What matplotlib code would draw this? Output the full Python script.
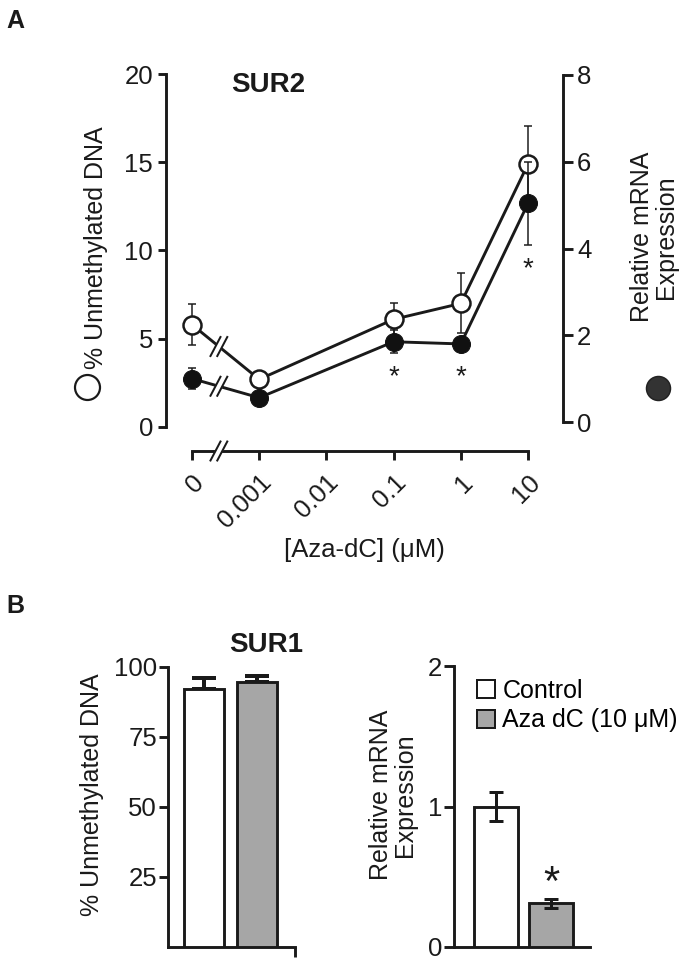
import matplotlib
matplotlib.use('Agg')
import matplotlib.pyplot as plt
from matplotlib.lines import Line2D
from matplotlib.patches import Patch
from matplotlib.transforms import IdentityTransform
import numpy as np

plt.rcParams['font.family'] = ['Liberation Sans', 'DejaVu Sans']

# ---------------- data ----------------
conc_labels = ['0', '0.001', '0.01', '0.1', '1', '10']
data_conc = ['0', '0.001', '0.1', '1', '10']
unmeth_pct = [5.8, 2.7, 6.1, 7.0, 14.9]        # open circles, left axis
unmeth_err = [1.15, 0.0, 0.9, 1.7, 2.15]
mrna_rel = [1.0, 0.56, 1.85, 1.8, 5.04]        # filled circles, right axis
mrna_err = [0.25, 0.0, 0.27, 0.0, 0.95]
sig_conc = ['0.1', '1', '10']

sur1_groups = ['Control', 'Aza dC (10 μM)']
sur1_unmeth = [92.0, 94.5]
sur1_unmeth_err = [4.0, 2.2]
sur1_mrna = [1.0, 0.31]
sur1_mrna_err = [0.1, 0.035]

# ---------------- style ----------------
W, H, DPI = 692, 960, 100
K = '#1a1a1a'
GRAY = '#a6a6a6'
PT = 72.0 / DPI  # points per pixel
LW = 2.9 * PT


def fx(px):
    return px / W


def fy(py):
    return 1 - py / H


fig = plt.figure(figsize=(W / DPI, H / DPI), dpi=DPI)

TICKFS = 18.5
LABFS = 18

# ---------------- Panel A ----------------
step = 67.2
axA = fig.add_axes([fx(166), fy(427), (563 - 166) / W, (427 - 74) / H])
axA.set_xlim(-(192 - 166) / step, (563 - 192) / step)
axA.set_ylim(0, 20)
axR = axA.twinx()
axR.set_ylim(-(427 - 422) / 43.375, 8 + (75 - 74) / 43.375)

for s in ['top', 'right']:
    axA.spines[s].set_visible(False)
for s in ['top', 'left', 'bottom']:
    axR.spines[s].set_visible(False)
axA.spines['left'].set_bounds(0, 20)
axA.spines['bottom'].set_position(('outward', 24 * PT))
axA.spines['bottom'].set_bounds(0, len(conc_labels) - 1)
axR.spines['right'].set_bounds(0, 8)
for sp in list(axA.spines.values()) + list(axR.spines.values()):
    sp.set_linewidth(LW)
    sp.set_color(K)

axA.set_yticks([0, 5, 10, 15, 20])
axA.tick_params(axis='y', direction='out', length=8 * PT, width=LW,
                color=K, labelsize=TICKFS, pad=5 * PT, labelcolor=K)
axR.set_yticks([0, 2, 4, 6, 8])
axR.tick_params(axis='y', direction='out', length=10 * PT, width=LW,
                color=K, labelsize=TICKFS, pad=4 * PT, labelcolor=K)
axA.set_xticks(range(len(conc_labels)))
axA.set_xticklabels(conc_labels, rotation=45, ha='right', va='top',
                    rotation_mode='anchor')
axA.tick_params(axis='x', direction='out', length=9 * PT, width=LW,
                color=K, labelsize=TICKFS, pad=10 * PT, labelcolor=K)
axA.set_xlabel('[Aza-dC] (μM)', fontsize=18.5, color=K, labelpad=4)

xs = [conc_labels.index(c) for c in data_conc]
axA.errorbar(xs, unmeth_pct, yerr=unmeth_err, fmt='none', ecolor=K,
             elinewidth=1.5 * PT, capsize=4 * PT, capthick=1.5 * PT, zorder=2)
axA.plot(xs, unmeth_pct, '-o', color=K, lw=LW, ms=18 * PT,
         mfc='white', mec=K, mew=2.5 * PT, zorder=3)
axR.errorbar(xs, mrna_rel, yerr=mrna_err, fmt='none', ecolor=K,
             elinewidth=1.5 * PT, capsize=4 * PT, capthick=1.5 * PT, zorder=2)
axR.plot(xs, mrna_rel, '-o', color=K, lw=LW, ms=18 * PT,
         mfc='#111111', mec='#111111', mew=1 * PT, zorder=3)

for c in sig_conc:
    i = data_conc.index(c)
    base = mrna_rel[i] - max(mrna_err[i], 0.2)
    axR.annotate('*', (xs[i], base), xytext=(0, -8), textcoords='offset points',
                 ha='center', va='top', fontsize=20, color=K)

fig.text(fx(268), fy(92), 'SUR2', fontsize=20, fontweight='bold', color=K,
         ha='center', va='baseline')
fig.text(fx(15), fy(28), 'A', fontsize=18, fontweight='bold', color=K,
         ha='center', va='baseline')

fig.text(fx(96), fy(248), '% Unmethylated DNA', rotation=90, fontsize=LABFS,
         color=K, ha='center', va='center')
fig.text(fx(654), fy(237), 'Relative mRNA\nExpression', rotation=90,
         fontsize=LABFS, color=K, ha='center', va='center',
         multialignment='center', linespacing=1.0)
fig.add_artist(Line2D([fx(87)], [fy(387)], marker='o', ms=25 * PT, mfc='white',
                      mec=K, mew=2.2 * PT, transform=fig.transFigure))
fig.add_artist(Line2D([fx(658)], [fy(388)], marker='o', ms=24 * PT,
                      mfc='#333333', mec='#222222', mew=1.5 * PT,
                      transform=fig.transFigure))


# break marks
def draw_break(xd, yd):
    dx, dy = 5, 9.5
    fig.add_artist(Line2D([xd - dx, xd + dx], [yd - dy, yd + dy], lw=7 * PT,
                          color='white', transform=IdentityTransform(),
                          zorder=10, solid_capstyle='butt'))
    for off in (-3.4, 3.4):
        fig.add_artist(Line2D([xd + off - dx, xd + off + dx],
                              [yd - dy, yd + dy], lw=2.0 * PT, color=K,
                              transform=IdentityTransform(), zorder=11))


bx = 0.4
p0 = axA.transData.transform((xs[0], unmeth_pct[0]))
p1 = axA.transData.transform((xs[1], unmeth_pct[1]))
t = (axA.transData.transform((bx, 0))[0] - p0[0]) / (p1[0] - p0[0])
draw_break(p0[0] + t * (p1[0] - p0[0]), p0[1] + t * (p1[1] - p0[1]))
q0 = axR.transData.transform((xs[0], mrna_rel[0]))
q1 = axR.transData.transform((xs[1], mrna_rel[1]))
draw_break(q0[0] + t * (q1[0] - q0[0]), q0[1] + t * (q1[1] - q0[1]))
xb = axA.transData.transform((bx, 0))[0]
yb = axA.transAxes.transform((0, 0))[1] - 24
draw_break(xb, yb)

# ---------------- Panel B ----------------
fig.text(fx(15), fy(613), 'B', fontsize=18, fontweight='bold', color=K,
         ha='center', va='baseline')
fig.text(fx(266), fy(652), 'SUR1', fontsize=20, fontweight='bold', color=K,
         ha='center', va='baseline')

colors = ['white', GRAY]

bstep = 53.0
axB1 = fig.add_axes([fx(168), fy(947), (295 - 168) / W, (947 - 667) / H])
axB1.set_xlim(-(204 - 168) / bstep, (295 - 204) / bstep)
axB1.set_ylim(0, 100)
axB1.bar([0, 1], sur1_unmeth, width=40 / bstep, color=colors, edgecolor=K,
         linewidth=LW, zorder=3)
axB1.errorbar([0, 1], sur1_unmeth,
              yerr=[[0, 0], sur1_unmeth_err], fmt='none', ecolor=K,
              elinewidth=4 * PT, capsize=12 * PT, capthick=4 * PT, zorder=2)
for s in ['top', 'right']:
    axB1.spines[s].set_visible(False)
for s in ['left', 'bottom']:
    axB1.spines[s].set_linewidth(LW)
    axB1.spines[s].set_color(K)
axB1.set_yticks([25, 50, 75, 100])
axB1.tick_params(axis='y', direction='out', length=9 * PT, width=LW,
                 color=K, labelsize=TICKFS, pad=2 * PT, labelcolor=K)
axB1.set_xticks([axB1.get_xlim()[1]])
axB1.set_xticklabels([''])
axB1.tick_params(axis='x', direction='out', length=10 * PT, width=LW,
                 color=K)
fig.text(fx(92), fy(795), '% Unmethylated DNA', rotation=90, fontsize=LABFS,
         color=K, ha='center', va='center')

bstep2 = 55.0
axB2 = fig.add_axes([fx(454), fy(947), (590 - 454) / W, (947 - 666) / H])
axB2.set_xlim(-(496 - 454) / bstep2, (590 - 496) / bstep2)
axB2.set_ylim(0, 2)
axB2.bar([0, 1], sur1_mrna, width=44 / bstep2, color=colors,
         edgecolor=K, linewidth=LW, zorder=3)
axB2.errorbar([0, 1], sur1_mrna, yerr=sur1_mrna_err, fmt='none', ecolor=K,
              elinewidth=3 * PT, capsize=7 * PT, capthick=3 * PT, zorder=4)
for s in ['top', 'right']:
    axB2.spines[s].set_visible(False)
for s in ['left', 'bottom']:
    axB2.spines[s].set_linewidth(LW)
    axB2.spines[s].set_color(K)
axB2.set_yticks([0, 1, 2])
axB2.tick_params(axis='y', direction='out', length=10 * PT, width=LW,
                 color=K, labelsize=TICKFS, pad=2 * PT, labelcolor=K)
axB2.set_xticks([])
axB2.annotate('*', (1, sur1_mrna[1] + sur1_mrna_err[1]), xytext=(0, -4),
              textcoords='offset points', ha='center', va='bottom',
              fontsize=30, color=K)
handles = [Patch(facecolor=c, edgecolor=K, linewidth=2 * PT) for c in colors]
fig.legend(handles, sur1_groups, loc='upper left',
           bbox_to_anchor=(fx(477), fy(679)), frameon=False, fontsize=18,
           handlelength=0.72, handleheight=0.72, handletextpad=0.3,
           labelspacing=0.22, borderpad=0, borderaxespad=0)
fig.text(fx(393), fy(795), 'Relative mRNA\nExpression', rotation=90,
         fontsize=LABFS, color=K, ha='center', va='center',
         multialignment='center', linespacing=1.0)

fig.savefig('out.png', dpi=DPI)
